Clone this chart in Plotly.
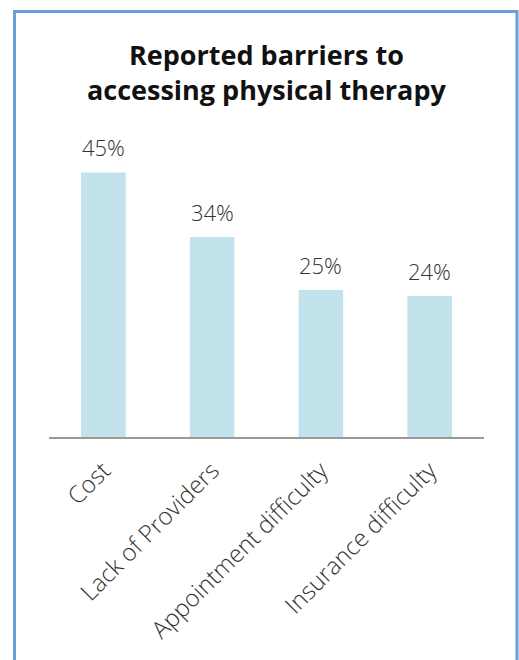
import plotly.graph_objects as go

categories = ["Cost", "Lack of Providers", "Appointment difficulty", "Insurance difficulty"]
values = [45, 34, 25, 24]
labels = ["45%", "34%", "25%", "24%"]
title_text = "Reported barriers to<br>accessing physical therapy"

W, H = 519, 660
ml, mr, mt, mb = 49, 35, 130, 223
plot_w = W - ml - mr
plot_h = H - mt - mb

def px_x(x):
    return (x - ml) / plot_w

def px_y(y):
    return (H - mb - y) / plot_h

FONT = "Open Sans"

fig = go.Figure()
fig.add_trace(go.Bar(
    x=categories, y=values,
    marker=dict(color="#c3e3ec", line=dict(width=0)),
    width=0.41,
    hoverinfo="skip",
))

for c, v, t in zip(categories, values, labels):
    fig.add_annotation(x=c, y=v, text=t, showarrow=False, yanchor="bottom",
                       yshift=8, font=dict(family=FONT, size=22, color="#333333", weight=300))

fig.add_annotation(xref="paper", yref="paper", x=0.5, y=px_y(72), text=title_text,
                   showarrow=False, xanchor="center", yanchor="middle", align="center",
                   font=dict(family=FONT, size=27, color="#111111", weight=700))

fig.add_shape(type="rect", xref="paper", yref="paper",
              x0=px_x(14.5), x1=px_x(517), y0=px_y(11.5), y1=px_y(700),
              line=dict(color="#6a9fd8", width=3), fillcolor="rgba(0,0,0,0)", layer="below")

fig.update_layout(
    width=W, height=H,
    margin=dict(l=ml, r=mr, t=mt, b=mb, pad=0),
    paper_bgcolor="white", plot_bgcolor="white",
    showlegend=False,
    xaxis=dict(showline=True, linecolor="#999999", linewidth=2, ticks="outside",
               ticklen=8, tickcolor="rgba(0,0,0,0)",
               tickangle=-45, tickfont=dict(family=FONT, size=24, color="#333333", weight=300),
               showgrid=False, zeroline=False, fixedrange=True),
    yaxis=dict(range=[0, plot_h / 5.88], visible=False, showgrid=False, zeroline=False,
               fixedrange=True),
)

fig.write_html("out.html", config={"displayModeBar": False},
               post_script="document.body.style.margin='0';document.body.style.padding='0';")
